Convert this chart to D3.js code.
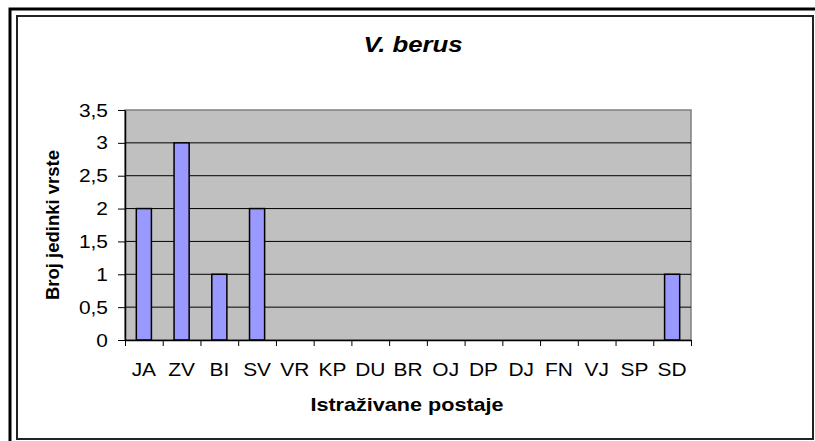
<!DOCTYPE html>
<html>
<head>
<meta charset="utf-8">
<script src="https://cdn.jsdelivr.net/npm/d3@7"></script>
<style>
  body { margin: 0; background: #fff; }
  text { font-family: "Liberation Sans", Arial, sans-serif; }
</style>
</head>
<body>
<div id="chart"></div>
<script>
(function () {
// data
var categories = ["JA", "ZV", "BI", "SV", "VR", "KP", "DU", "BR", "OJ", "DP", "DJ", "FN", "VJ", "SP", "SD"];
var values = [2, 3, 1, 2, 0, 0, 0, 0, 0, 0, 0, 0, 0, 0, 1];
var yTicks = [0, 0.5, 1, 1.5, 2, 2.5, 3, 3.5];
var chartTitle = "V. berus";
var xTitle = "Istraživane postaje";
var yTitle = "Broj jedinki vrste";

var width = 815, height = 441;
var plot = {left: 125, right: 691, top: 110, bottom: 340};
var stretch = 1.1; // text in the picture is a bit wide

var svg = d3.select("#chart").append("svg")
    .attr("width", width)
    .attr("height", height);

// frames
svg.append("rect")
    .attr("x", 10).attr("y", 9)
    .attr("width", 830).attr("height", 450)
    .attr("fill", "#fff")
    .attr("stroke", "#000").attr("stroke-width", 3);

svg.append("rect")
    .attr("x", 17).attr("y", 16)
    .attr("width", 796).attr("height", 423)
    .attr("fill", "#fff")
    .attr("stroke", "#222").attr("stroke-width", 2);

var x = d3.scaleBand()
    .domain(categories)
    .range([plot.left, plot.right])
    .paddingInner(0.6)
    .paddingOuter(0.3);

var xEdge = d3.scaleLinear()
    .domain([0, categories.length])
    .range([plot.left, plot.right]);

var y = d3.scaleLinear()
    .domain([0, 3.5])
    .range([plot.bottom, plot.top]);

// plot area
svg.append("rect")
    .attr("x", plot.left).attr("y", plot.top)
    .attr("width", plot.right - plot.left)
    .attr("height", plot.bottom - plot.top)
    .attr("fill", "#c0c0c0")
    .attr("stroke", "#808080").attr("stroke-width", 1.5);

// gridlines
svg.append("g")
  .selectAll("line")
  .data(yTicks.filter(function(d) { return d > 0 && d < 3.5; }))
  .enter().append("line")
    .attr("x1", plot.left).attr("x2", plot.right)
    .attr("y1", function(d) { return y(d); })
    .attr("y2", function(d) { return y(d); })
    .attr("stroke", "#000").attr("stroke-width", 1);

// bars
svg.append("g")
  .selectAll("rect")
  .data(values.map(function(v, i) { return {cat: categories[i], v: v}; })
              .filter(function(d) { return d.v > 0; }))
  .enter().append("rect")
    .attr("x", function(d) { return x(d.cat); })
    .attr("y", function(d) { return y(d.v); })
    .attr("width", x.bandwidth())
    .attr("height", function(d) { return y(0) - y(d.v); })
    .attr("fill", "#9999ff")
    .attr("stroke", "#000").attr("stroke-width", 1.5);

// y axis
var yAxis = svg.append("g")
    .attr("transform", "translate(" + plot.left + ",0)")
    .call(d3.axisLeft(y)
      .tickValues(yTicks)
      .tickSize(7)
      .tickSizeOuter(0)
      .tickPadding(8.5)
      .tickFormat(function(d) { return String(d).replace(".", ","); }));
yAxis.select(".domain").attr("stroke", "#000").attr("stroke-width", 1.5);
yAxis.selectAll(".tick line").attr("stroke", "#000");
yAxis.selectAll(".tick text")
    .attr("font-size", 19)
    .attr("fill", "#000")
    .attr("font-family", "Liberation Sans, Arial, sans-serif")
    .attr("transform", "scale(" + stretch + ",1)");

// x tick marks on category edges
var xTicks = svg.append("g")
    .attr("transform", "translate(0," + plot.bottom + ")")
    .call(d3.axisBottom(xEdge)
      .tickValues(d3.range(categories.length + 1))
      .tickSize(6)
      .tickSizeOuter(0)
      .tickFormat(""));
xTicks.select(".domain").attr("stroke", "#000").attr("stroke-width", 1.5);
xTicks.selectAll(".tick line").attr("stroke", "#000");

// x labels
var xAxis = svg.append("g")
    .attr("transform", "translate(0," + plot.bottom + ")")
    .call(d3.axisBottom(x).tickSize(0));
xAxis.select(".domain").remove();
xAxis.selectAll(".tick text")
    .attr("y", 36)
    .attr("dy", null)
    .attr("font-size", 19)
    .attr("fill", "#000")
    .attr("font-family", "Liberation Sans, Arial, sans-serif")
    .attr("transform", "scale(" + stretch + ",1)");

// titles
svg.append("text")
    .attr("transform", "translate(413,52) scale(1.17,1)")
    .attr("text-anchor", "middle")
    .attr("font-size", 22)
    .attr("font-weight", "bold")
    .attr("font-style", "italic")
    .text(chartTitle);

svg.append("text")
    .attr("transform", "translate(407,411) scale(1.2,1)")
    .attr("text-anchor", "middle")
    .attr("font-size", 18)
    .attr("font-weight", "bold")
    .text(xTitle);

svg.append("text")
    .attr("transform", "translate(59," + ((plot.top + plot.bottom) / 2) + ") rotate(-90)")
    .attr("text-anchor", "middle")
    .attr("font-size", 18.5)
    .attr("font-weight", "bold")
    .text(yTitle);

})();
</script>
</body>
</html>
